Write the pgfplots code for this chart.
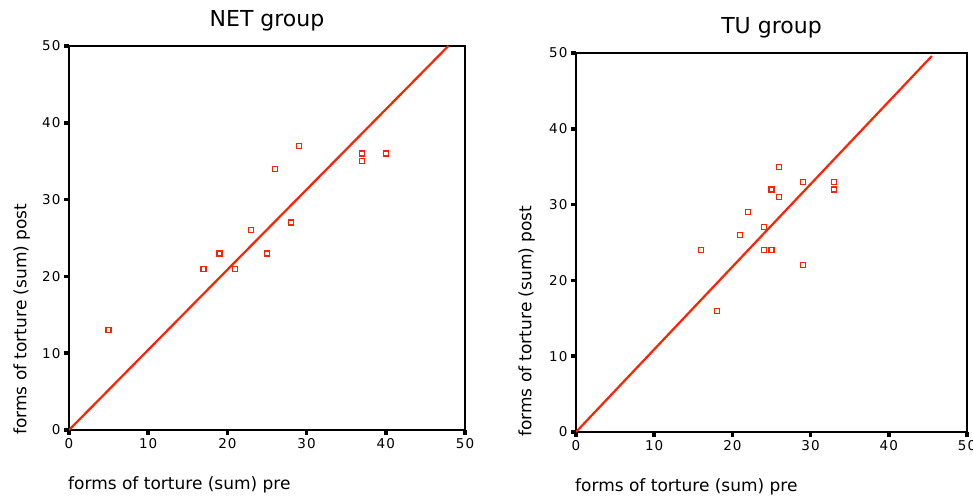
\documentclass[border=0pt]{standalone}
\usepackage{fontspec}
\setmainfont{DejaVu Sans}
\newfontfamily\tickfont[LetterSpace=8]{DejaVu Sans}
\usepackage{pgfplots}
\pgfplotsset{compat=1.18}
\definecolor{fitred}{RGB}{255,34,0}
\pgfplotsset{
  myax/.style={
    scale only axis,
    xmin=0, xmax=50, ymin=0, ymax=50,
    xtick={0,10,20,30,40,50}, ytick={0,10,20,30,40,50},
    tick align=outside, xtick pos=left, ytick pos=left,
    major tick length=5bp,
    tick style={black, line width=3.5bp},
    axis line style={black, line width=1.5bp},
    /pgf/number format/assume math mode=true,
    ticklabel style={font=\fontsize{13.5bp}{15bp}\tickfont},
    every axis title/.style={at={(axis description cs:0.5,1)}, anchor=base, yshift=19bp, font=\fontsize{22bp}{26bp}\selectfont},
    every axis x label/.style={at={(axis description cs:0,0)}, anchor=north west, inner sep=0pt, yshift=-46bp, xshift=-1bp, font=\fontsize{17bp}{20bp}\selectfont},
    every axis y label/.style={at={(axis description cs:0,0)}, rotate=90, anchor=south west, inner sep=0pt, yshift=39bp, xshift=-5bp, font=\fontsize{17bp}{20bp}\selectfont},
    xlabel={forms of torture (sum) pre},
    ylabel={forms of torture (sum) post},
  },
  pts/.style={fitred, only marks, mark=square*, mark size=2.5bp, mark options={draw=fitred, fill=white, line width=1.3bp, solid}},
  fit/.style={no marks, fitred, line width=2.2bp},
}
\begin{document}
\begin{tikzpicture}
\path[use as bounding box] (0,0) rectangle (973bp,497bp);
\begin{axis}[myax, width=396bp, height=384bp, at={(69bp,67bp)}, anchor=south west, title={NET group}]
\addplot[fit] coordinates {(0,0) (47.9,50)};
\addplot[pts] coordinates {
(5,13) (17,21) (19,23) (21,21) (23,26) (25,23) (26,34) (28,27) (29,37) (37,36) (37,35) (40,36)
};
\end{axis}
\begin{axis}[myax, width=391bp, height=379bp, at={(576bp,65bp)}, anchor=south west, title={TU group}, every axis y label/.append style={yshift=2bp}]
\addplot[fit] coordinates {(0,0) (45.5,49.6)};
\addplot[pts] coordinates {
(16,24) (18,16) (21,26) (22,29) (24,27) (24,24) (25,24) (25,32) (26,35) (26,31) (29,33) (29,22) (33,33) (33,32)
};
\end{axis}
\end{tikzpicture}
\end{document}
